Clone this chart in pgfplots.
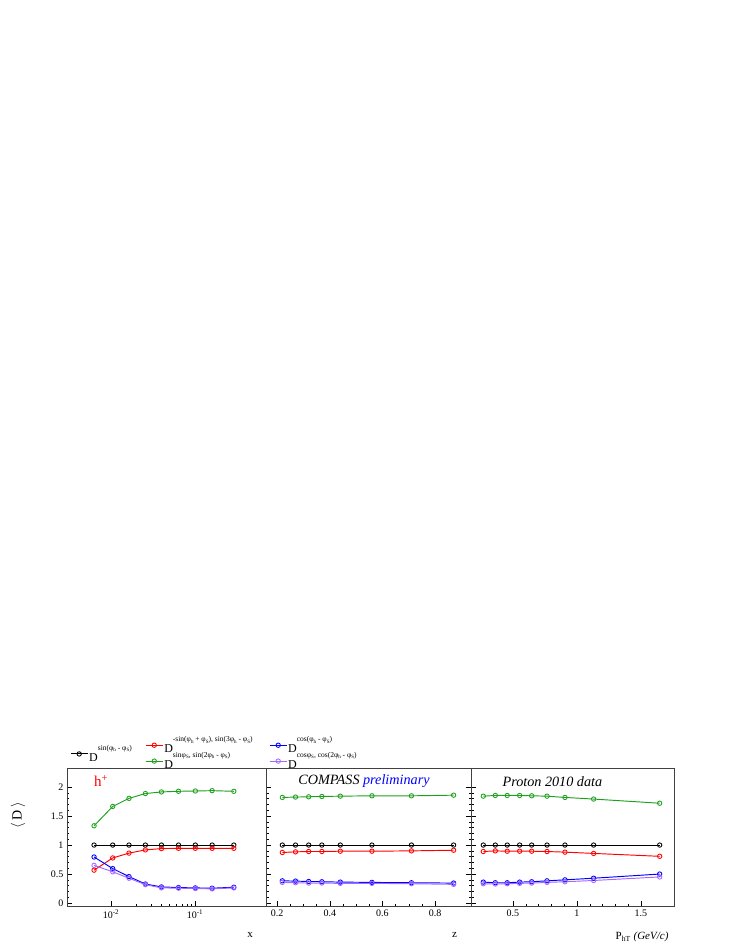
\documentclass[border=0pt]{standalone}
\usepackage{fontspec}
\setmainfont{Liberation Serif}
\usepackage{pgfplots}
\pgfplotsset{compat=1.18}

\definecolor{rgreen}{RGB}{30,160,30}
\definecolor{rviolet}{RGB}{165,105,255}

\newcommand\sub[1]{\raisebox{-1.5pt}{\fontsize{5}{5}\selectfont #1}}
\newcommand\D[1]{\fontsize{12}{12}\selectfont\rule[-6.6pt]{0pt}{6.6pt}D\raisebox{11pt}{\fontsize{7.5}{8}\selectfont #1}}

\pgfplotsset{
  panel/.style={
    scale only axis, height=138.5pt,
    ymin=-0.06, ymax=2.33,
    ytick={0,0.5,1,1.5,2}, minor y tick num=4,
    tick align=inside, xtick pos=bottom,
    major tick length=5pt, minor tick length=2.5pt,
    axis line style={black!75, line width=0.6pt},
    every tick/.style={black, line width=0.5pt},
    tick label style={font=\fontsize{10}{12}\selectfont},
    /pgf/number format/assume math mode=true,
    clip=false,
    legend style={draw=none, fill=none, inner sep=0pt, row sep=-3.8pt,
      nodes={inner sep=1pt}, cells={anchor=west}},
  },
  every axis plot/.append style={line width=0.95pt, mark=o, mark size=2.2pt,
    mark options={solid, line width=0.85pt}},
}

\begin{document}
\begin{tikzpicture}
\useasboundingbox (0,0) rectangle (736pt,952pt);

% panel 1 : x
\begin{axis}[panel, at={(67pt,45.5pt)}, anchor=south west, width=199pt,
    xmode=log, xmin=0.003, xmax=0.7,
    xtick={0.01,0.1}, xticklabels={10\textsuperscript{-2},10\textsuperscript{-1}},
    ytick pos=left,
    ylabel={$\langle$\,D\,$\rangle$},
    every axis y label/.style={at={(axis description cs:-0.246,0.66)}, rotate=90, anchor=center,
      font=\fontsize{14}{14}\selectfont},
    xlabel={x},
    every axis x label/.style={at={(axis description cs:0.92,-0.16)}, anchor=north,
      font=\fontsize{11}{11}\selectfont},
    legend style={at={(axis description cs:0.015,1.029)}, anchor=south west},
  ]
  \addlegendimage{black}
  \addplot[black] coordinates {(0.0063,1)(0.0105,1)(0.0164,1)(0.0257,1)(0.0399,1)(0.0637,1)(0.101,1)(0.160,1)(0.29,1)};
  \addplot[red] coordinates {(0.0063,0.567)(0.0105,0.778)(0.0164,0.861)(0.0257,0.917)(0.0399,0.939)(0.0637,0.944)(0.101,0.944)(0.160,0.944)(0.29,0.944)};
  \addplot[rgreen] coordinates {(0.0063,1.333)(0.0105,1.667)(0.0164,1.806)(0.0257,1.889)(0.0399,1.917)(0.0637,1.928)(0.101,1.933)(0.160,1.939)(0.29,1.928)};
  \addplot[blue] coordinates {(0.0063,0.794)(0.0105,0.594)(0.0164,0.456)(0.0257,0.328)(0.0399,0.278)(0.0637,0.267)(0.101,0.261)(0.160,0.256)(0.29,0.272)};
  \addplot[rviolet] coordinates {(0.0063,0.65)(0.0105,0.539)(0.0164,0.428)(0.0257,0.317)(0.0399,0.261)(0.0637,0.256)(0.101,0.25)(0.160,0.244)(0.29,0.261)};
  \legend{\D{sin(φ\sub{h} - φ\sub{S})}}
  \node[red, font=\fontsize{15}{15}\selectfont] at (rel axis cs:0.171,0.906) {h\textsuperscript{+}};
\end{axis}

% panel 2 : z
\begin{axis}[panel, at={(266pt,45.5pt)}, anchor=south west, width=205pt,
    xmin=0.158, xmax=0.936,
    xtick={0.2,0.4,0.6,0.8}, minor x tick num=3,
    ytick pos=both, yticklabels={},
    xlabel={z},
    every axis x label/.style={at={(axis description cs:0.92,-0.16)}, anchor=north,
      font=\fontsize{11}{11}\selectfont},
    legend style={at={(axis description cs:-0.590,0.977)}, anchor=south west},
  ]
  \addlegendimage{red}
  \addlegendimage{rgreen}
  \addplot[black] coordinates {(0.22,1)(0.27,1)(0.32,1)(0.37,1)(0.44,1)(0.56,1)(0.71,1)(0.87,1)};
  \addplot[red] coordinates {(0.22,0.872)(0.27,0.883)(0.32,0.889)(0.37,0.889)(0.44,0.894)(0.56,0.894)(0.71,0.9)(0.87,0.911)};
  \addplot[rgreen] coordinates {(0.22,1.822)(0.27,1.828)(0.32,1.833)(0.37,1.839)(0.44,1.844)(0.56,1.85)(0.71,1.85)(0.87,1.861)};
  \addplot[blue] coordinates {(0.22,0.383)(0.27,0.378)(0.32,0.372)(0.37,0.367)(0.44,0.361)(0.56,0.356)(0.71,0.35)(0.87,0.344)};
  \addplot[rviolet] coordinates {(0.22,0.356)(0.27,0.35)(0.32,0.344)(0.37,0.344)(0.44,0.339)(0.56,0.339)(0.71,0.333)(0.87,0.322)};
  \legend{\D{-sin(φ\sub{h} + φ\sub{S}), sin(3φ\sub{h} - φ\sub{S})},
          \D{sinφ\sub{S}, sin(2φ\sub{h} - φ\sub{S})}}
  \node[font=\fontsize{14.2}{14.2}\selectfont\itshape] at (rel axis cs:0.478,0.906)
    {COMPASS \textcolor{blue}{preliminary}};
\end{axis}

% panel 3 : P_hT
\begin{axis}[panel, at={(471pt,45.5pt)}, anchor=south west, width=203pt,
    xmin=0.172, xmax=1.758,
    xtick={0.5,1,1.5}, minor x tick num=4,
    ytick pos=left, yticklabels={},
    xlabel={P\textsubscript{hT} \textit{(GeV/c)}},
    every axis x label/.style={at={(axis description cs:0.99,-0.16)}, anchor=north east,
      font=\fontsize{11}{11}\selectfont},
    legend style={at={(axis description cs:-0.995,0.977)}, anchor=south west},
  ]
  \addlegendimage{blue}
  \addlegendimage{rviolet}
  \addplot[black] coordinates {(0.268,1)(0.362,1)(0.455,1)(0.552,1)(0.646,1)(0.766,1)(0.906,1)(1.13,1)(1.646,1)};
  \addplot[red] coordinates {(0.268,0.889)(0.362,0.9)(0.455,0.894)(0.552,0.894)(0.646,0.894)(0.766,0.889)(0.906,0.878)(1.13,0.856)(1.646,0.806)};
  \addplot[rgreen] coordinates {(0.268,1.844)(0.362,1.856)(0.455,1.856)(0.552,1.856)(0.646,1.85)(0.766,1.844)(0.906,1.822)(1.13,1.794)(1.646,1.722)};
  \addplot[blue] coordinates {(0.268,0.361)(0.362,0.35)(0.455,0.35)(0.552,0.361)(0.646,0.367)(0.766,0.383)(0.906,0.4)(1.13,0.428)(1.646,0.5)};
  \addplot[rviolet] coordinates {(0.268,0.333)(0.362,0.328)(0.455,0.333)(0.552,0.339)(0.646,0.344)(0.766,0.356)(0.906,0.367)(1.13,0.389)(1.646,0.45)};
  \legend{\D{cos(φ\sub{h} - φ\sub{S})},
          \D{cosφ\sub{S}, cos(2φ\sub{h} - φ\sub{S})}}
  \node[font=\fontsize{14.2}{14.2}\selectfont\itshape] at (rel axis cs:0.401,0.905)
    {Proton 2010 data};
\end{axis}
\end{tikzpicture}
\end{document}
